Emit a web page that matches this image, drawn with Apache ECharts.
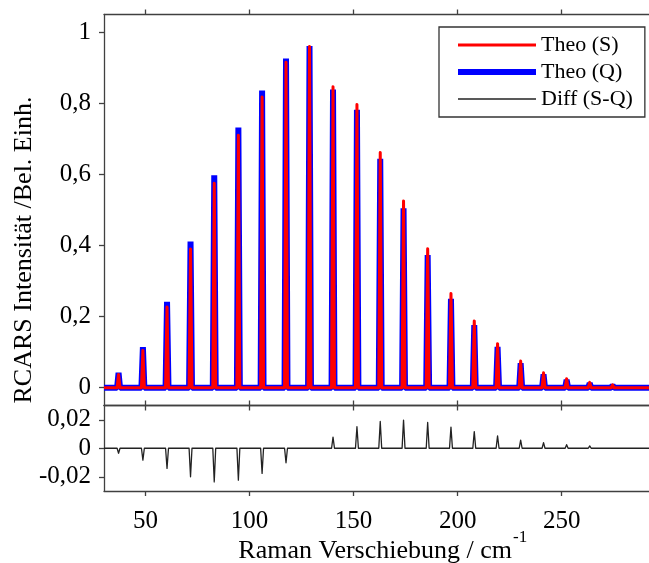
<!DOCTYPE html>
<html>
<head>
<meta charset="utf-8">
<script src="https://cdn.jsdelivr.net/npm/echarts@6/dist/echarts.min.js"></script>
<style>
html,body{margin:0;padding:0;background:#fff;}
#chart{width:649px;height:563px;}
</style>
</head>
<body>
<div id="chart"></div>
<script>
// ---- data ----
const xTicks = [50, 100, 150, 200, 250];
const yTopTicks = [0, 0.2, 0.4, 0.6, 0.8, 1];
const yBottomTicks = [-0.02, 0, 0.02];

const peakPositions = [37.0, 48.7, 60.3, 71.6, 83.0, 94.6, 106.0, 117.5, 128.8, 140.1, 151.6, 162.8,
  174.0, 185.6, 196.8, 208.0, 219.2, 230.3, 241.3, 252.4, 263.5, 274.5, 285.6];
const theoS = [0.037, 0.105, 0.227, 0.390, 0.575, 0.710, 0.818, 0.916, 0.960, 0.847, 0.797, 0.662,
  0.525, 0.391, 0.265, 0.188, 0.124, 0.075, 0.042, 0.025, 0.015, 0.008, 0.005];
const theoQ = [0.042, 0.114, 0.242, 0.411, 0.598, 0.732, 0.836, 0.926, 0.961, 0.839, 0.782, 0.644,
  0.505, 0.373, 0.250, 0.176, 0.115, 0.069, 0.038, 0.022, 0.013, 0.007, 0.0046];
const diffSQ = [-0.0035, -0.0083, -0.0141, -0.0200, -0.0236, -0.0224, -0.0177, -0.0102, -0.0012, 0.0078,
  0.0151, 0.0188, 0.0198, 0.0181, 0.0148, 0.0117, 0.0087, 0.0057, 0.0040, 0.0025, 0.0016, 0.0008, 0.0004];

const X_MIN = 30, X_MAX = 292;
const HALF = 0.7; // half base width of each drawn peak (x units)

function peakLine(pos, vals) {
  const out = [[X_MIN, 0]];
  for (let i = 0; i < pos.length; i++) {
    out.push([pos[i] - HALF, 0]);
    out.push([pos[i], vals[i]]);
    out.push([pos[i] + HALF, 0]);
  }
  out.push([X_MAX, 0]);
  return out;
}

const FONT = 'Liberation Serif';
const AXC = '#404040';
const fmt = v => String(v).replace('.', ',');

function xAxisCfg(grid, position, labels) {
  return {
    type: 'value', gridIndex: grid, position: position, min: X_MIN, max: X_MAX,
    axisLine: { show: true, onZero: false, lineStyle: { color: AXC, width: 1.3 } },
    axisTick: { show: true, inside: false, length: 5, customValues: xTicks, lineStyle: { color: AXC, width: 1.3 } },
    axisLabel: labels ? { show: true, customValues: xTicks, margin: 18, fontFamily: FONT, fontSize: 25, color: '#000' } : { show: false },
    splitLine: { show: false }
  };
}
function yAxisCfg(grid, min, max, ticks) {
  return {
    type: 'value', gridIndex: grid, min: min, max: max,
    axisLine: { show: true, onZero: false, lineStyle: { color: AXC, width: 1.3 } },
    axisTick: { show: true, inside: false, length: 5, customValues: ticks, lineStyle: { color: AXC, width: 1.3 } },
    axisLabel: { show: true, customValues: ticks, margin: 13, fontFamily: FONT, fontSize: 25, color: '#000', formatter: fmt },
    splitLine: { show: false }
  };
}

const chart = echarts.init(document.getElementById('chart'), null, { renderer: 'canvas' });
chart.setOption({
  animation: false,
  backgroundColor: '#fff',
  grid: [
    { left: 104, top: 14.5, width: 545, height: 391 },
    { left: 104, top: 405.5, width: 545, height: 85.5 }
  ],
  xAxis: [
    xAxisCfg(0, 'bottom', false),
    xAxisCfg(0, 'top', false),
    xAxisCfg(1, 'top', false),
    xAxisCfg(1, 'bottom', true)
  ],
  yAxis: [
    yAxisCfg(0, -0.05, 1.05, yTopTicks),
    yAxisCfg(1, -0.03, 0.03, yBottomTicks)
  ],
  legend: {
    data: [
      { name: 'Theo (S)', lineStyle: { width: 3 } },
      { name: 'Theo (Q)', lineStyle: { width: 6 } },
      { name: 'Diff (S-Q)', lineStyle: { width: 1.3 } }
    ],
    orient: 'vertical', left: 439, top: 27,
    padding: [7, 12, 7, 16],
    itemWidth: 78, itemHeight: 14, itemGap: 5,
    itemStyle: { opacity: 0 },
    backgroundColor: '#fff', borderColor: '#333', borderWidth: 1.3, borderRadius: 0,
    textStyle: { fontFamily: FONT, fontSize: 22, color: '#000', lineHeight: 22 }
  },
  graphic: [
    {
      type: 'text', x: 24, y: 250, rotation: Math.PI / 2,
      style: { text: 'RCARS Intensität /Bel. Einh.', fontFamily: FONT, fontSize: 26, fill: '#000', align: 'center', verticalAlign: 'middle' }
    },
    {
      type: 'text', x: 512, y: 551,
      style: { text: 'Raman Verschiebung / cm', fontFamily: FONT, fontSize: 26, fill: '#000', align: 'right', verticalAlign: 'middle' }
    },
    {
      type: 'text', x: 513, y: 538,
      style: { text: '-1', fontFamily: FONT, fontSize: 17, fill: '#000', align: 'left', verticalAlign: 'middle' }
    }
  ],
  series: [
    {
      name: 'Theo (Q)', type: 'line', xAxisIndex: 0, yAxisIndex: 0, data: peakLine(peakPositions, theoQ),
      symbol: 'none', showSymbol: false, z: 2,
      lineStyle: { color: '#0000ff', width: 6, join: 'bevel' }, itemStyle: { color: '#0000ff' }
    },
    {
      name: 'Theo (S)', type: 'line', xAxisIndex: 0, yAxisIndex: 0, data: peakLine(peakPositions, theoS),
      symbol: 'none', showSymbol: false, z: 3,
      lineStyle: { color: '#ff0000', width: 3, join: 'round' }, itemStyle: { color: '#ff0000' }
    },
    {
      name: 'Diff (S-Q)', type: 'line', xAxisIndex: 3, yAxisIndex: 1, data: peakLine(peakPositions, diffSQ),
      symbol: 'none', showSymbol: false, z: 3,
      lineStyle: { color: '#222', width: 1.3, join: 'round' }, itemStyle: { color: '#222' }
    }
  ]
});
</script>
</body>
</html>
